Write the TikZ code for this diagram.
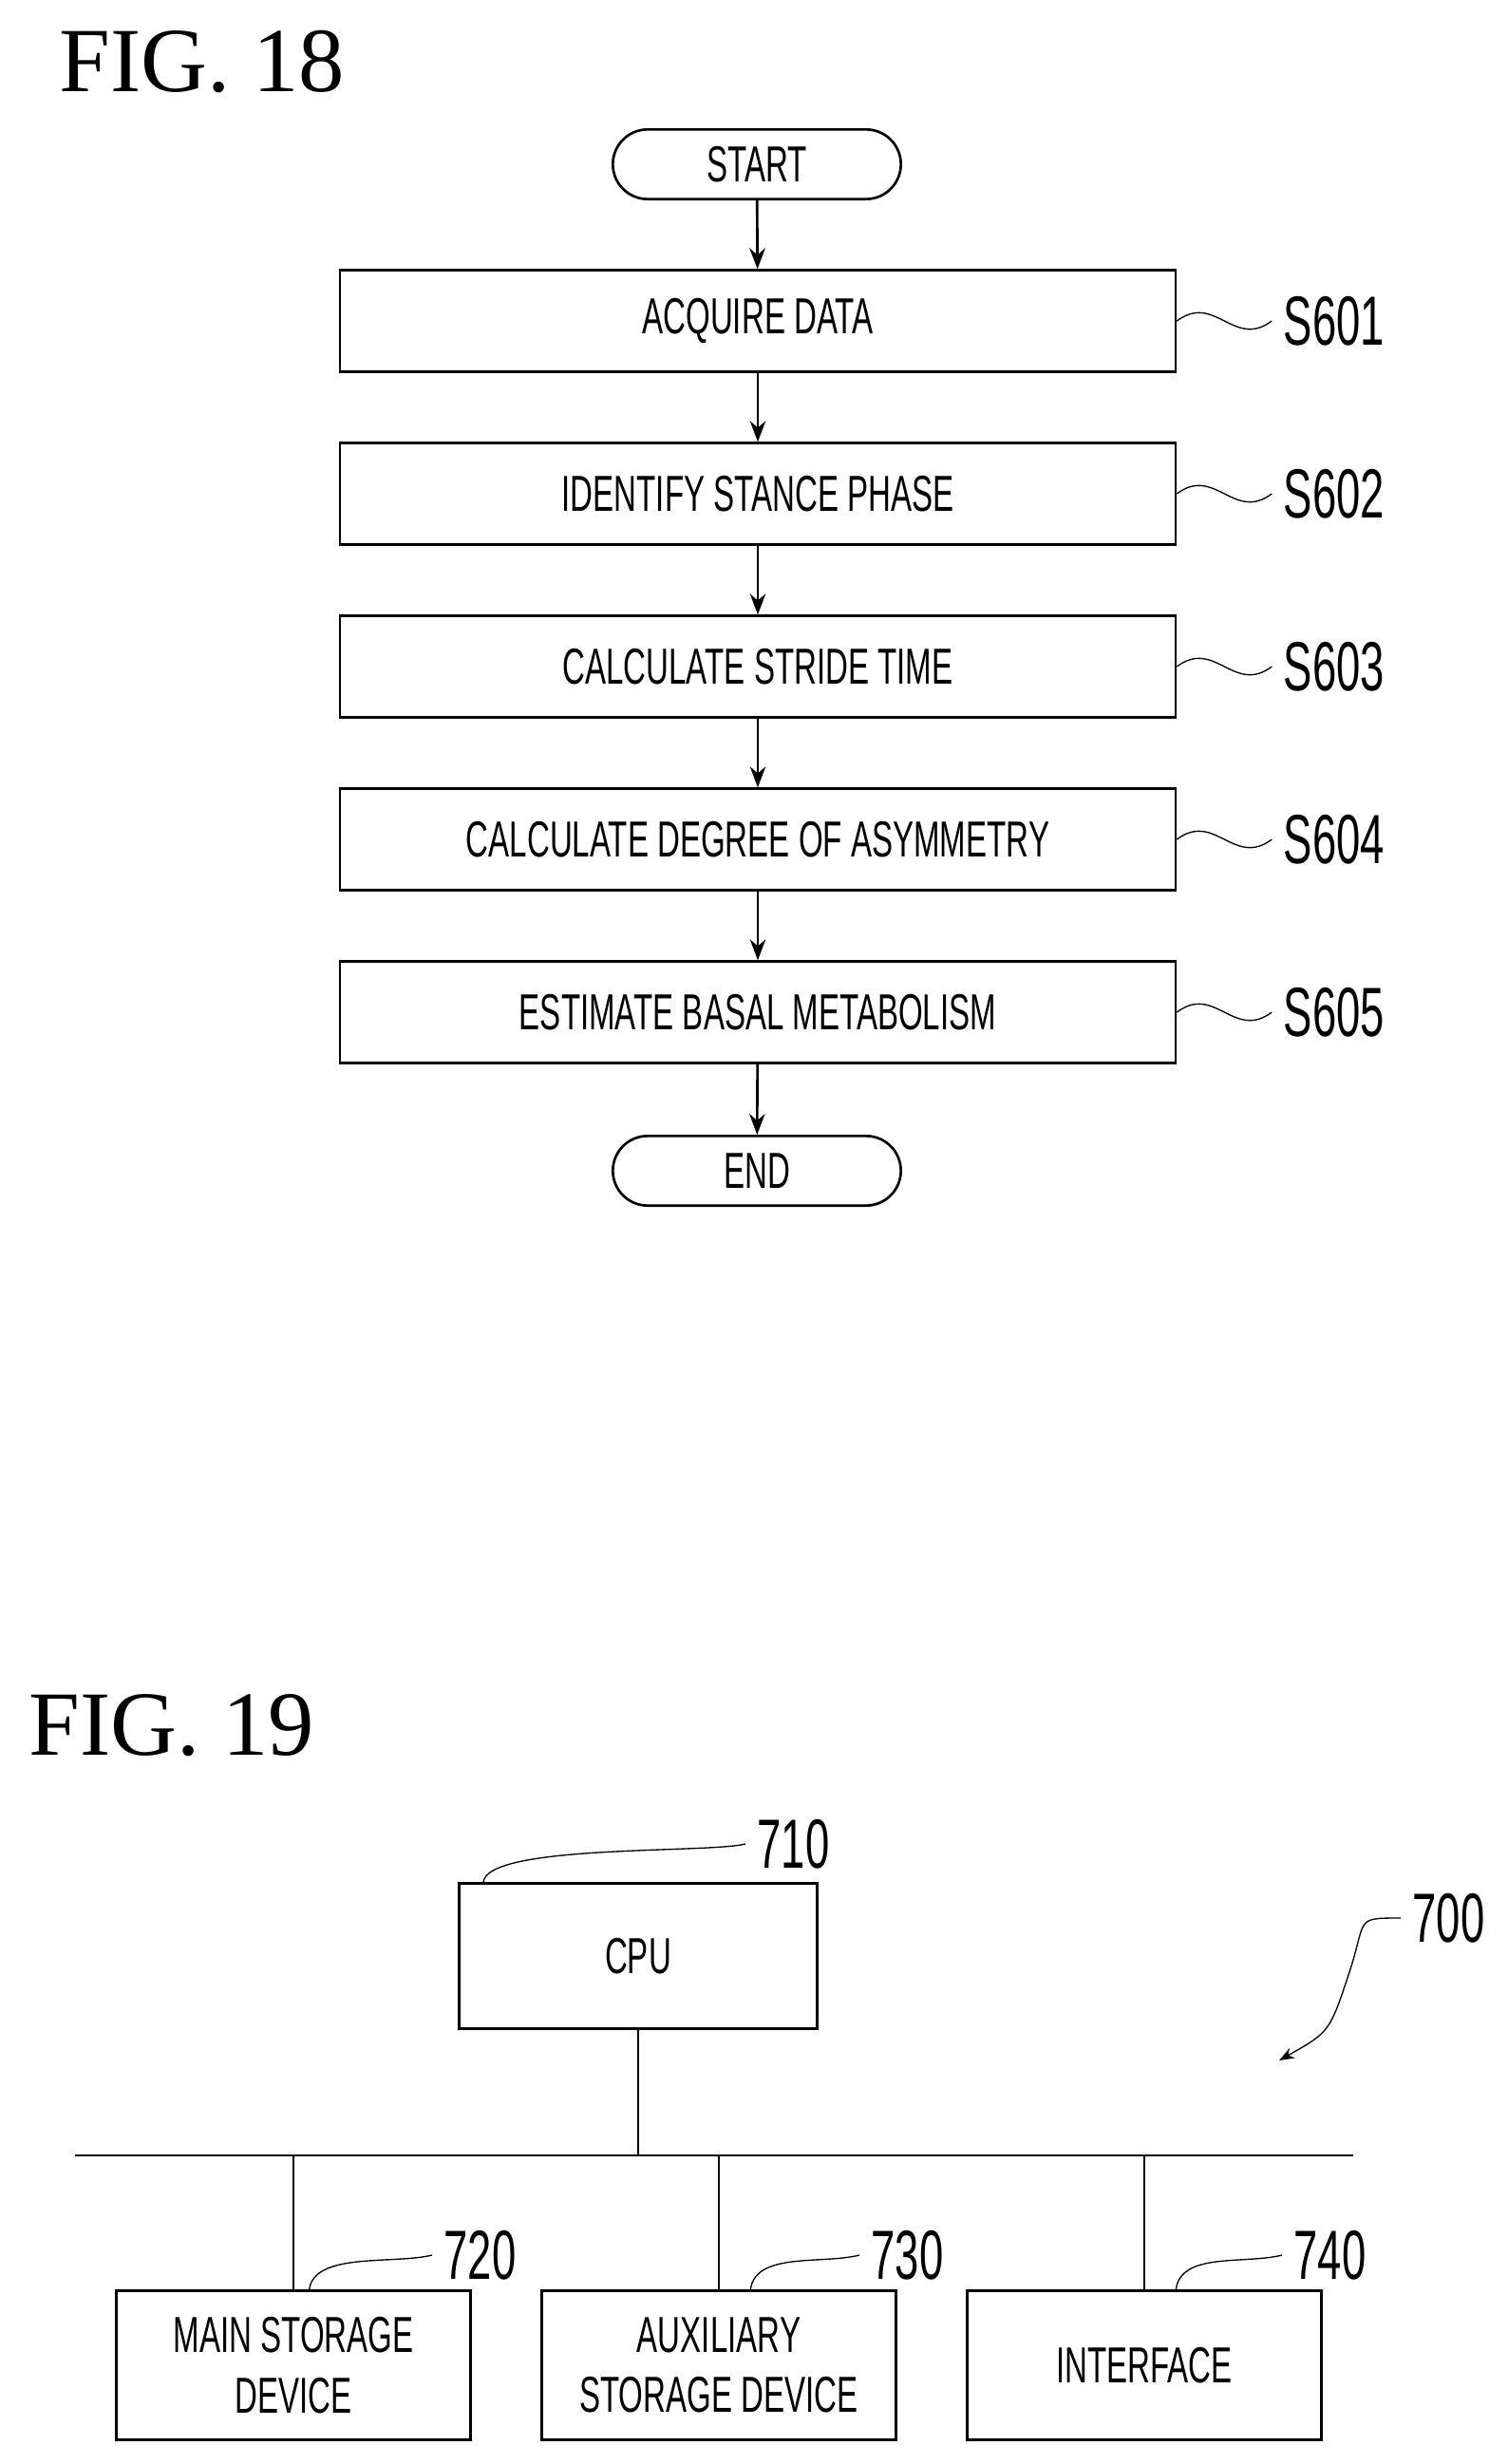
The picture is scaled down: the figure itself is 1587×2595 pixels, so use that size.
\documentclass[tikz,border=0pt]{standalone}
\usepackage{fontspec}
\setmainfont{Liberation Serif}
\newfontfamily\boxfont[FakeStretch=0.62]{Liberation Sans}
\usetikzlibrary{arrows.meta, positioning}

\begin{document}
\begin{tikzpicture}[x=0.3pt,y=-0.3pt,>=Stealth,thick,
  step box/.style={draw,minimum width=264pt,minimum height=32pt,font=\boxfont\fontsize{16}{18}\selectfont},
  term box/.style={draw,rounded corners=11pt,minimum width=91pt,minimum height=22pt,font=\boxfont\fontsize{16}{18}\selectfont},
  unit box/.style={draw,minimum width=112pt,minimum height=47pt,align=center,font=\boxfont\fontsize{16}{19}\selectfont},
  ref label/.style={font=\boxfont\fontsize{22}{22}\selectfont,anchor=west},
  fig title/.style={font=\fontsize{29}{30}\selectfont,anchor=north west}]
  \useasboundingbox (0,0) rectangle (1587,2595);
  % FIG. 18
  \node[fig title] (t18) at (50,20) {FIG.\ 18};
  \node[term box] (start) at (797,173) {START};
  \node[step box] (s1) at (798,338) {ACQUIRE DATA};
  \node[step box] (s2) at (798,520) {IDENTIFY STANCE PHASE};
  \node[step box] (s3) at (798,702) {CALCULATE STRIDE TIME};
  \node[step box] (s4) at (798,884) {CALCULATE DEGREE OF ASYMMETRY};
  \node[step box] (s5) at (798,1066) {ESTIMATE BASAL METABOLISM};
  \node[term box] (end) at (797,1233) {END};
  \draw[->] (start) -- (s1);
  \draw[->] (s1) -- (s2);
  \draw[->] (s2) -- (s3);
  \draw[->] (s3) -- (s4);
  \draw[->] (s4) -- (s5);
  \draw[->] (s5) -- (end);
  \foreach \s/\n in {s1/S601,s2/S602,s3/S603,s4/S604,s5/S605}{
    \node[ref label] (l\s) at ([xshift=30pt]\s.east) {\n};
    \draw[thin] (\s.east) .. controls +(40,-30) and +(-40,30) .. (l\s.west);
  }
  % FIG. 19
  \node[fig title] (t19) at (18,1772) {FIG.\ 19};
  \node[unit box,minimum width=113pt,minimum height=46pt] (cpu) at (672,2060) {CPU};
  \node[unit box] (mem) at (309,2491) {MAIN STORAGE\\DEVICE};
  \node[unit box] (aux) at (757,2491) {AUXILIARY\\STORAGE DEVICE};
  \node[unit box] (itf) at (1205,2491) {INTERFACE};
  \coordinate (busl) at (79,2270);
  \coordinate (busr) at (1425,2270);
  \draw (busl) -- (busr);
  \draw (cpu.south) -- (cpu.south |- busl);
  \foreach \u in {mem,aux,itf}
    \draw (\u.north) -- (\u.north |- busl);
  \node[ref label] (l710) at (785,1942) {710};
  \node[ref label] (l720) at (455,2375) {720};
  \node[ref label] (l730) at (905,2375) {730};
  \node[ref label] (l740) at (1350,2375) {740};
  \draw[thin] ([xshift=8pt]cpu.north west) .. controls +(5,-40) and +(-40,10) .. (l710.west);
  \draw[thin] ([xshift=-40pt]mem.north) ++(150,0) .. controls +(5,-40) and +(-40,10) .. (l720.west);
  \draw[thin] ([xshift=10pt]aux.north) .. controls +(5,-40) and +(-40,10) .. (l730.west);
  \draw[thin] ([xshift=10pt]itf.north) .. controls +(5,-40) and +(-40,10) .. (l740.west);
  \node[ref label] (l700) at (1475,2020) {700};
  \coordinate (tip700) at (1347,2170);
  \draw[thin,->] (l700.west) .. controls +(-50,0) and +(20,-60) .. (1420,2080) .. controls +(-20,60) .. (tip700);
\end{tikzpicture}
\end{document}
